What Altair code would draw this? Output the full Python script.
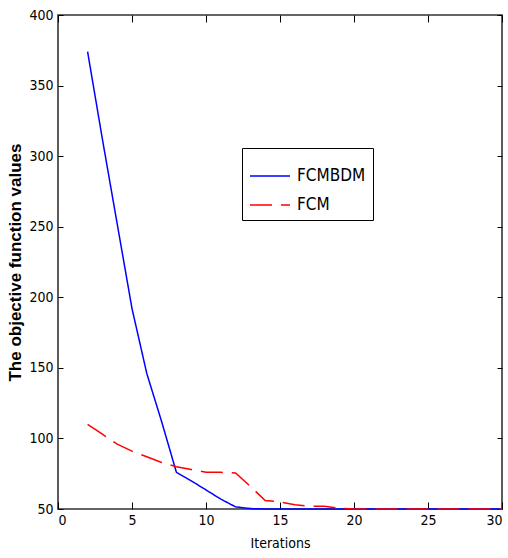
import altair as alt
import pandas as pd

iterations = [2, 3, 4, 5, 6, 7, 8, 9, 10, 11, 12, 13, 14, 15, 16, 17, 18, 19, 20,
              21, 22, 23, 24, 25, 26, 27, 28, 29, 30]
fcmbdm = [374, 312, 252, 192, 146, 112, 76, 70, 63.5, 57, 51.5, 50.3, 50, 50, 50, 50,
          50, 50, 50, 50, 50, 50, 50, 50, 50, 50, 50, 50, 50]
fcm = [110, 103, 96, 91, 87, 83, 80, 78, 76, 76, 75.5, 66, 56, 55, 53, 52, 52, 50.5,
       50, 50, 50, 50, 50, 50, 50, 50, 50, 50, 50]
methods = ["FCMBDM", "FCM"]
x_ticks = [0, 5, 10, 15, 20, 25, 30]
y_ticks = [50, 100, 150, 200, 250, 300, 350, 400]

df = pd.DataFrame({
    "Iterations": iterations + iterations,
    "value": fcmbdm + fcm,
    "method": [methods[0]] * len(iterations) + [methods[1]] * len(iterations),
})

NARROW = "DejaVu Sans Condensed, Liberation Sans Narrow, sans-serif"

xscale = alt.Scale(domain=[0, 30], nice=False, zero=False)
yscale = alt.Scale(domain=[50, 400], nice=False, zero=False)

leg = alt.Legend(
    title=None, orient="none", legendX=184, legendY=133,
    fillColor="white", strokeColor="black", padding=7,
    symbolType="stroke", symbolSize=1600, symbolStrokeWidth=1.6,
    labelFont=NARROW, labelFontSize=17, labelColor="black", labelOffset=6,
    rowPadding=0,
)
color = alt.Color("method:N", scale=alt.Scale(domain=methods, range=["#0000ff", "#ff0000"]),
                  legend=leg)
dash = alt.StrokeDash("method:N", scale=alt.Scale(domain=methods, range=[[1, 0], [22, 9]]),
                      legend=leg)

x_axis = alt.Axis(values=x_ticks, title="Iterations", offset=-7, tickSize=7, domain=False,
                  grid=False, tickColor="black", labelPadding=4, labelFont=NARROW,
                  labelFontSize=14, labelColor="black", titleFont=NARROW, titleFontSize=14,
                  titleFontWeight="normal", titleColor="black", titlePadding=9)
y_axis = alt.Axis(values=y_ticks, title="The objective function values", offset=-5, tickSize=5,
                  domain=False, grid=False, tickColor="black", labelPadding=5, labelFont=NARROW,
                  labelFontSize=14, labelColor="black", titleFont="Liberation Sans",
                  titleFontSize=17, titleFontWeight="bold", titleColor="black", titlePadding=4)

base = alt.Chart(df)

blue = base.transform_filter(alt.datum.method == "FCMBDM").mark_line(strokeWidth=1.5).encode(
    x=alt.X("Iterations:Q", scale=xscale, axis=x_axis),
    y=alt.Y("value:Q", scale=yscale, axis=y_axis),
    color=color, strokeDash=dash,
)
red = base.transform_filter(alt.datum.method == "FCM").mark_line(strokeWidth=1.5).encode(
    x=alt.X("Iterations:Q", scale=xscale, axis=None),
    y=alt.Y("value:Q", scale=yscale, axis=None),
    color=color, strokeDash=dash,
)
frame = base.mark_line(opacity=0).encode(
    x=alt.X("Iterations:Q", scale=xscale,
            axis=alt.Axis(orient="top", values=x_ticks, labels=False, title=None, offset=-7,
                          tickSize=7, domain=False, grid=False, tickColor="black")),
    y=alt.Y("value:Q", scale=yscale,
            axis=alt.Axis(orient="right", values=y_ticks, labels=False, title=None, offset=-5,
                          tickSize=5, domain=False, grid=False, tickColor="black")),
)

chart = alt.layer(blue, red, frame).resolve_axis(x="independent", y="independent").properties(
    width=444, height=494,
    autosize=alt.AutoSizeParams(type="none"),
    padding={"left": 58, "top": 15, "right": 6, "bottom": 49},
    background="white",
).configure_view(stroke="#333333", strokeWidth=1.6)

chart.save("out.html", embed_options={"renderer": "svg", "actions": False})
